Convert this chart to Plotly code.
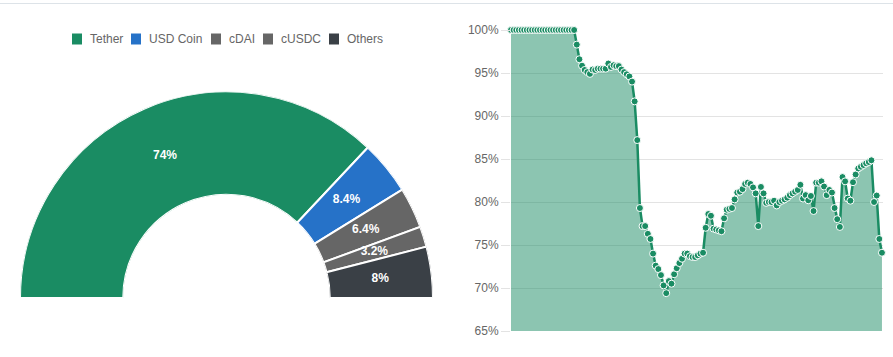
import numpy as np
import plotly.graph_objects as go

# ---------------- data ----------------
tokens = ["Tether", "USD Coin", "cDAI", "cUSDC", "Others"]
token_share = [74, 8.4, 6.4, 3.2, 8]

share_history = [100] * 25 + [
    98.3, 96.6, 95.85, 95.35, 95.1, 94.9, 95.4, 95.35, 95.5, 95.5,
    95.5, 95.5, 96.1, 95.7, 95.9, 95.8, 95.8, 95.4, 95.1, 94.85,
    94.6, 94.0, 91.7, 87.2, 79.3, 77.2, 77.2, 76.3, 75.7, 74.0,
    72.6, 72.2, 71.5, 70.3, 69.4, 70.8, 70.5, 71.6, 72.3, 72.9,
    73.4, 74.0, 74.0, 73.7, 73.6, 73.6, 73.8, 74.0, 74.1, 77.0,
    78.6, 78.4, 76.9, 76.8, 76.7, 76.6, 78.1, 79.1, 79.2, 79.3,
    80.3, 81.1, 81.2, 81.5, 82.1, 82.25, 82.1, 81.7, 81.0, 77.2,
    81.75, 81.0, 79.9, 80.0, 80.0, 80.15, 79.6, 80.0, 80.15, 80.3,
    80.5, 80.8, 81.0, 81.2, 81.4, 82.0, 80.4, 80.8, 80.2, 80.7,
    78.95, 82.25, 82.25, 82.4, 81.8, 80.8, 81.4, 81.1, 79.3, 78.0,
    77.1, 82.9, 82.4, 80.4, 80.15, 82.3, 83.2, 83.9, 84.1, 84.3,
    84.5, 84.65, 84.85, 80.0, 80.75, 75.7, 74.1,
]
day_index = list(range(len(share_history)))
y_ticks = [65, 70, 75, 80, 85, 90, 95, 100]
y_tick_labels = [f"{v}%" for v in y_ticks]

# ---------------- style ----------------
W, H = 893, 357
FONT = "Arial, Liberation Sans, sans-serif"
slice_colors = ["#1a8c63", "#2672c8", "#666666", "#666666", "#3a4046"]
green = "#1a8c63"
legend_left_px = [72, 131, 211, 263, 329]   # layout of the legend row
legend_cy_px = 39

fig = go.Figure()

# half donut drawn as polar bars (percent -> degrees of a half circle)
deg = np.array(token_share, dtype=float) * 180.0 / 100.0
starts = np.concatenate([[0.0], np.cumsum(deg)[:-1]])
mids = starts + deg / 2.0

for name, d, m, c in zip(tokens, deg, mids, slice_colors):
    fig.add_trace(go.Barpolar(
        r=[1], base=[0], theta=[m], width=[d], name=name,
        marker=dict(color=c, line=dict(color="white", width=2)),
        subplot="polar", showlegend=False, hoverinfo="name",
    ))

fig.add_trace(go.Scatterpolar(
    r=[0.5] * len(tokens), theta=mids, mode="text",
    text=[f"<b>{v:g}%</b>" for v in token_share],
    textfont=dict(color="white", size=12, family=FONT),
    subplot="polar", showlegend=False, hoverinfo="skip",
))

# area line chart
fig.add_trace(go.Scatter(
    x=day_index, y=share_history, mode="lines+markers",
    line=dict(color=green, width=2.5),
    marker=dict(size=7, color=green, line=dict(color="white", width=1)),
    fill="tozeroy", fillcolor="rgba(26,140,99,0.5)",
    cliponaxis=False, showlegend=False,
))

# legend row (square + label per token)
shapes = [dict(type="line", xref="paper", yref="paper", x0=0, x1=1,
               y0=1 - 3.5 / H, y1=1 - 3.5 / H,
               line=dict(color="#dde3e8", width=1))]
annotations = []
for name, c, lx in zip(tokens, slice_colors, legend_left_px):
    shapes.append(dict(type="rect", xref="paper", yref="paper",
                       x0=lx / W, x1=(lx + 10) / W,
                       y0=1 - (legend_cy_px + 5.5) / H, y1=1 - (legend_cy_px - 5.5) / H,
                       fillcolor=c, line=dict(width=0)))
    annotations.append(dict(xref="paper", yref="paper", x=(lx + 16) / W,
                            y=1 - legend_cy_px / H, xanchor="left", yanchor="middle",
                            text=name, showarrow=False,
                            font=dict(size=12, color="#666666", family=FONT)))

fig.update_layout(
    template="none",
    width=W, height=H,
    margin=dict(l=0, r=0, t=0, b=0, autoexpand=False),
    paper_bgcolor="white", plot_bgcolor="white",
    font=dict(family=FONT, size=12, color="#666666"),
    showlegend=False,
    polar=dict(
        domain=dict(x=[20 / W, 433 / W], y=[59 / H, 265.5 / H]),
        sector=[0, 180], hole=0.5, bgcolor="rgba(0,0,0,0)",
        radialaxis=dict(visible=False, range=[0, 1]),
        angularaxis=dict(visible=False, rotation=180, direction="clockwise"),
        bargap=0,
    ),
    xaxis=dict(
        domain=[511 / W, 883 / W], range=[0, len(day_index) - 1 + 0.4],
        showgrid=False, zeroline=False, showticklabels=False, showline=False,
        ticks="", automargin=False,
    ),
    yaxis=dict(
        domain=[26 / H, 327 / H], range=[65, 100],
        tickmode="array", tickvals=y_ticks, ticktext=y_tick_labels,
        showgrid=True, gridcolor="#e3e3e3", gridwidth=1, zeroline=False,
        ticks="outside", ticklen=9, tickcolor="#e3e3e3", tickwidth=1,
        tickfont=dict(size=12, color="#666666", family=FONT),
        showline=False, automargin=False,
    ),
    shapes=shapes,
    annotations=annotations,
)

fig.write_html(
    "out.html",
    include_plotlyjs=True,
    config={"displayModeBar": False},
    post_script="document.body.style.margin='0';document.body.style.overflow='hidden';",
)
